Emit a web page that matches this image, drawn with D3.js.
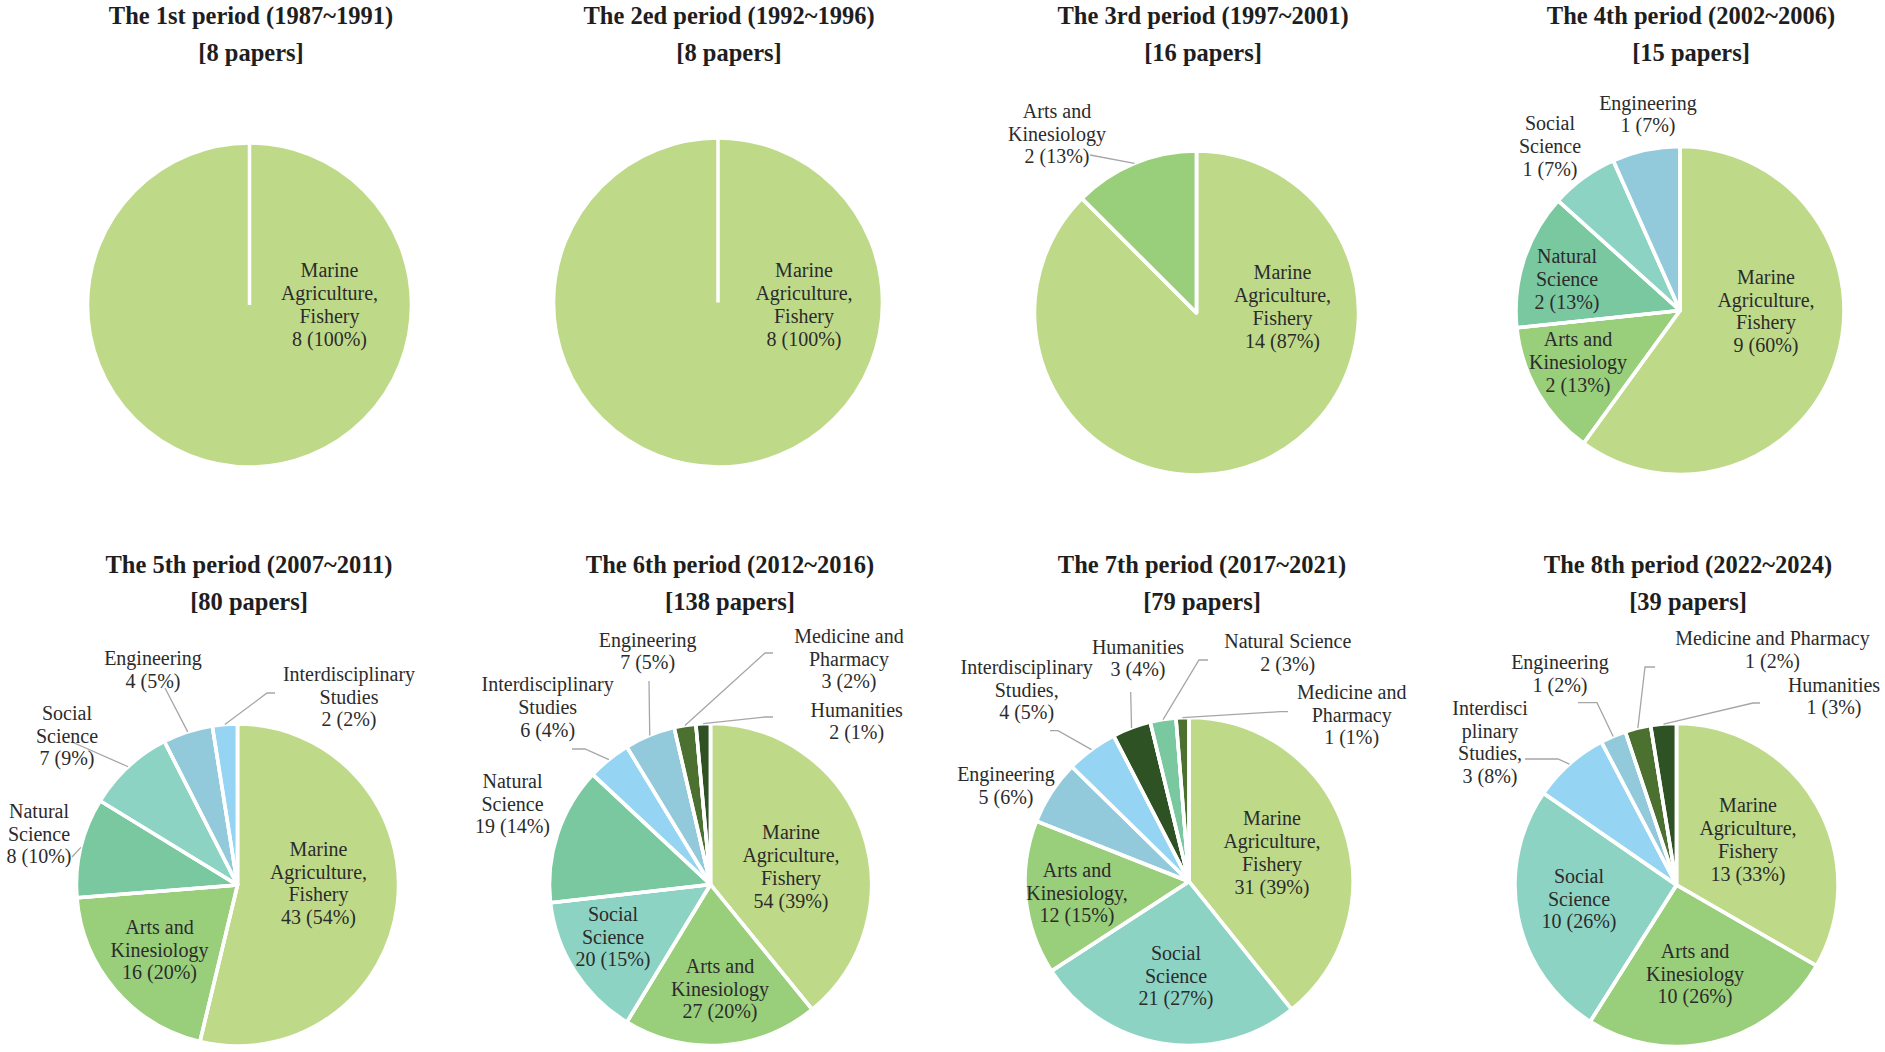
<!DOCTYPE html>
<html><head><meta charset="utf-8">
<script src="https://cdn.jsdelivr.net/npm/d3@7"></script>
<style>html,body{margin:0;padding:0;background:#fff;}svg{display:block;}</style>
</head><body>
<svg id="chart" width="1885" height="1052"></svg>
<script>
// ---------------- DATA ----------------
const periodTitles = [
  "The 1st period (1987~1991)", "The 2ed period (1992~1996)",
  "The 3rd period (1997~2001)", "The 4th period (2002~2006)",
  "The 5th period (2007~2011)", "The 6th period (2012~2016)",
  "The 7th period (2017~2021)", "The 8th period (2022~2024)"
];
const paperTotals = [8, 8, 16, 15, 80, 138, 79, 39];

const categories = ["Marine Agriculture, Fishery", "Arts and Kinesiology", "Natural Science",
  "Social Science", "Engineering", "Interdisciplinary Studies", "Medicine and Pharmacy", "Humanities"];

// slice order (category index), counts and percentage labels per period
const p1Cats = [0];                     const p1Counts = [8];            const p1Pcts = ["100%"];
const p2Cats = [0];                     const p2Counts = [8];            const p2Pcts = ["100%"];
const p3Cats = [0, 1];                  const p3Counts = [14, 2];        const p3Pcts = ["87%", "13%"];
const p4Cats = [0, 1, 2, 3, 4];         const p4Counts = [9, 2, 2, 1, 1]; const p4Pcts = ["60%", "13%", "13%", "7%", "7%"];
const p5Cats = [0, 1, 2, 3, 4, 5];      const p5Counts = [43, 16, 8, 7, 4, 2];
const p5Pcts = ["54%", "20%", "10%", "9%", "5%", "2%"];
const p6Cats = [0, 1, 3, 2, 5, 4, 6, 7]; const p6Counts = [54, 27, 20, 19, 6, 7, 3, 2];
const p6Pcts = ["39%", "20%", "15%", "14%", "4%", "5%", "2%", "1%"];
const p7Cats = [0, 3, 1, 4, 5, 7, 2, 6]; const p7Counts = [31, 21, 12, 5, 4, 3, 2, 1];
const p7Pcts = ["39%", "27%", "15%", "6%", "5%", "4%", "3%", "1%"];
const p8Cats = [0, 1, 3, 5, 4, 6, 7];    const p8Counts = [13, 10, 10, 3, 1, 1, 1];
const p8Pcts = ["33%", "26%", "26%", "8%", "2%", "2%", "3%"];

// label wording (line breaks as printed) per period
const p1Names = ["Marine\nAgriculture,\nFishery"];
const p2Names = ["Marine\nAgriculture,\nFishery"];
const p3Names = ["Marine\nAgriculture,\nFishery", "Arts and\nKinesiology"];
const p4Names = ["Marine\nAgriculture,\nFishery", "Arts and\nKinesiology", "Natural\nScience", "Social\nScience", "Engineering"];
const p5Names = ["Marine\nAgriculture,\nFishery", "Arts and\nKinesiology", "Natural\nScience", "Social\nScience", "Engineering", "Interdisciplinary\nStudies"];
const p6Names = ["Marine\nAgriculture,\nFishery", "Arts and\nKinesiology", "Social\nScience", "Natural\nScience", "Interdisciplinary\nStudies", "Engineering", "Medicine and\nPharmacy", "Humanities"];
const p7Names = ["Marine\nAgriculture,\nFishery", "Social\nScience", "Arts and\nKinesiology,", "Engineering", "Interdisciplinary\nStudies,", "Humanities", "Natural Science", "Medicine and\nPharmacy"];
const p8Names = ["Marine\nAgriculture,\nFishery", "Arts and\nKinesiology", "Social\nScience", "Interdisci\nplinary\nStudies,", "Engineering", "Medicine and Pharmacy", "Humanities"];

// ---------------- STYLE / LAYOUT ----------------
const catColors = ["#BEDA89", "#99CE7B", "#7AC8A0", "#8DD3C4", "#93CADB", "#95D5F3", "#4C7030", "#2E5223"];

// pie geometry: [cx, cy, r, titleCx, titleBaseline1, titleLineGap]
const geom = [
  [249.5, 305, 162, 251, 24, 37], [718, 302.5, 164.5, 729, 24, 37],
  [1196.5, 313, 162, 1203, 24, 37], [1680, 310.5, 164, 1691, 24, 37],
  [237.5, 885, 161, 249, 573, 37], [710.5, 884.5, 161, 730, 573, 37],
  [1189, 881.5, 164, 1202, 573, 37], [1676.5, 885, 161.5, 1688, 573, 37]
];
// label layout per slice: [dx, dy (block centre from pie centre), leader anchor dx,dy (from label centre), elbow dx,dy]
const lay = [
  [[80, 0]],
  [[86, 2.5]],
  [[86, -6], [-139.5, -179, 33, 21]],
  [[86, 1], [-102, 52], [-113, -31], [-130, -164], [-32, -196]],
  [[81, -1.5], [-78, 65], [-198.5, -51, 33, 23], [-170.5, -149, 5, 6], [-84.5, -215, 12, 18], [111.5, -188, -74, -4, -82, -4]],
  [[80.5, -17.5], [9.5, 104.5], [-97.5, 52.5], [-198, -80.5], [-162.8, -177, 24.3, 41.5, 37.3, 41.5],
   [-62.8, -233, 1.3, 29.5], [138.5, -225.5, -76, -6, -84, -6], [146.2, -163, -83.7, -4.5, -91.7, -4.5]],
  [[83, -28.5], [-13, 94.5], [-112, 11.5], [-183, -95.5], [-162.3, -191.5, 23.3, 40.7, 31.3, 40.7],
   [-51, -223, -7.3, 33.5], [98.8, -228.5, -79.8, 7, -88.8, 7], [162.7, -166.5, -63.7, -3.3, -71.7, -3.3]],
  [[71.5, -45], [18.5, 89], [-97.5, 14], [-186.5, -142.5, 35, 16.5, 68, 16.5], [-116.5, -211, 18, 28.7, 37, 28.7],
   [96, -235, -117.5, 17, -127.5, 17], [157.5, -188.5, -74, 6.5, -81, 6.5]]
];

const allCats = [p1Cats, p2Cats, p3Cats, p4Cats, p5Cats, p6Cats, p7Cats, p8Cats];
const allCounts = [p1Counts, p2Counts, p3Counts, p4Counts, p5Counts, p6Counts, p7Counts, p8Counts];
const allPcts = [p1Pcts, p2Pcts, p3Pcts, p4Pcts, p5Pcts, p6Pcts, p7Pcts, p8Pcts];
const allNames = [p1Names, p2Names, p3Names, p4Names, p5Names, p6Names, p7Names, p8Names];

const FONT = "'Liberation Serif','Times New Roman',serif";
const LABEL_FS = 20, LH = 22.7, TITLE_FS = 24.5;
const color = d3.scaleOrdinal().domain(d3.range(categories.length)).range(catColors);

const svg = d3.select("#chart");
svg.append("rect").attr("width", 1885).attr("height", 1052).attr("fill", "#fff");

const pie = d3.pie().sort(null).value(d => d.count).startAngle(0).endAngle(2 * Math.PI);

for (let i = 0; i < 8; i++) {
  const [cx, cy, r, tx, ty, tgap] = geom[i];
  const g = svg.append("g");

  // title
  const t = g.append("text").attr("x", tx).attr("y", ty).attr("text-anchor", "middle")
    .style("font-family", FONT).style("font-size", TITLE_FS + "px").style("font-weight", "bold").attr("fill", "#1e1e1e");
  t.append("tspan").attr("x", tx).text(periodTitles[i]);
  t.append("tspan").attr("x", tx).attr("dy", tgap).text("[" + paperTotals[i] + " papers]");

  const data = allCats[i].map((c, k) => ({ cat: c, count: allCounts[i][k], pct: allPcts[i][k], name: allNames[i][k] }));
  const arcs = pie(data);
  const arc = d3.arc().innerRadius(0).outerRadius(r);
  const edge = d3.arc().innerRadius(r).outerRadius(r);

  const pg = g.append("g").attr("transform", `translate(${cx},${cy})`);
  pg.selectAll("path").data(arcs).join("path")
    .attr("d", arc).attr("fill", d => color(d.data.cat))
    .attr("stroke", "#fff").attr("stroke-width", 3.5).attr("stroke-linejoin", "round");
  // radial separators (visible also for single-slice pies)
  pg.selectAll("line.sep").data(arcs).join("line").attr("class", "sep")
    .attr("x1", 0).attr("y1", 0)
    .attr("x2", d => r * Math.sin(d.startAngle)).attr("y2", d => -r * Math.cos(d.startAngle))
    .attr("stroke", "#fff").attr("stroke-width", 3.5);

  // labels + leaders
  arcs.forEach((d, k) => {
    const L = lay[i][k];
    const lx = cx + L[0], ly = cy + L[1];
    if (L.length > 2) {
      const e = edge.centroid(d);
      const pts = [[lx + L[2], ly + L[3]]];
      if (L.length > 4) pts.push([lx + L[4], ly + L[5]]);
      pts.push([cx + e[0], cy + e[1]]);
      g.append("path").attr("d", d3.line()(pts)).attr("fill", "none")
        .attr("stroke", "#A6A6A6").attr("stroke-width", 1.3);
    }
    const lines = d.data.name.split("\n").concat([d.data.count + " (" + d.data.pct + ")"]);
    const n = lines.length;
    const txt = g.append("text").attr("text-anchor", "middle")
      .style("font-family", FONT).style("font-size", LABEL_FS + "px").attr("fill", "#2b2b2b");
    lines.forEach((s, j) => {
      txt.append("tspan").attr("x", lx).attr("y", ly - (n - 1) / 2 * LH + j * LH + 6.5).text(s);
    });
  });
}
</script>
</body></html>
